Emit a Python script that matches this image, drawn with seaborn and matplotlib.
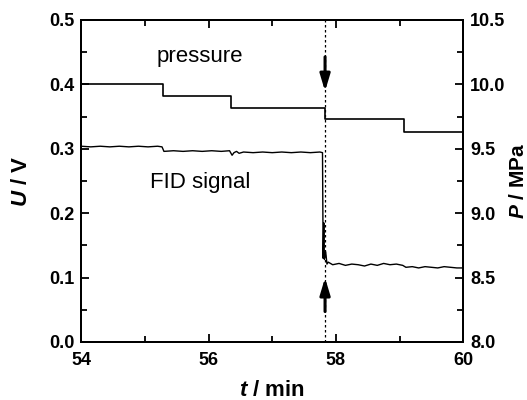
import numpy as np
import pandas as pd
import matplotlib
matplotlib.use("Agg")
import matplotlib.pyplot as plt
import seaborn as sns
from matplotlib.ticker import MultipleLocator, FormatStrFormatter

sns.set_style("ticks")
plt.rcParams['font.family'] = ['Liberation Sans', 'DejaVu Sans']
plt.rcParams['mathtext.fontset'] = 'custom'
plt.rcParams['mathtext.it'] = 'Liberation Sans:italic:bold'
plt.rcParams['mathtext.rm'] = 'Liberation Sans:bold'
plt.rcParams['text.color'] = 'black'
plt.rcParams['axes.labelcolor'] = 'black'
plt.rcParams['xtick.color'] = 'black'
plt.rcParams['ytick.color'] = 'black'

# pressure steps (MPa)
p_time = [54.0, 55.29, 56.36, 57.83, 59.07, 60.0]
p_value = [10.0, 9.91, 9.82, 9.73, 9.63, 9.63]

# FID signal (V)
fid_time = [54.00, 54.15, 54.30, 54.45, 54.60, 54.75, 54.90, 55.05, 55.20, 55.27,
            55.30, 55.45, 55.60, 55.75, 55.90, 56.05, 56.20, 56.33,
            56.37, 56.40, 56.44, 56.48, 56.55, 56.70, 56.85, 57.00, 57.15,
            57.30, 57.45, 57.60, 57.75, 57.79,
            57.80, 57.81, 57.82, 57.84, 57.86, 57.88, 57.95, 58.05, 58.15, 58.25,
            58.35, 58.45, 58.55, 58.65, 58.75, 58.85, 58.95, 59.05, 59.10,
            59.20, 59.30, 59.40, 59.50, 59.60, 59.70, 59.80, 59.90, 60.00]
fid_value = [0.304, 0.303, 0.304, 0.303, 0.304, 0.303, 0.304, 0.303, 0.304, 0.303,
             0.296, 0.297, 0.296, 0.297, 0.296, 0.297, 0.296, 0.297,
             0.290, 0.294, 0.296, 0.293, 0.295, 0.294, 0.295, 0.294, 0.295,
             0.294, 0.295, 0.294, 0.295, 0.294,
             0.130, 0.185, 0.128, 0.140, 0.121, 0.124, 0.120, 0.122, 0.119, 0.121,
             0.120, 0.118, 0.121, 0.119, 0.122, 0.120, 0.121, 0.119, 0.116,
             0.117, 0.115, 0.117, 0.116, 0.115, 0.117, 0.116, 0.115, 0.115]

t_event = 57.83

fid = pd.DataFrame({"t": fid_time, "U": fid_value})
pres = pd.DataFrame({"t": p_time, "P": p_value})

fig = plt.figure(figsize=(5.27, 4.0), dpi=100)
ax = fig.add_axes([0.154, 0.145, 0.725, 0.805])
ax2 = ax.twinx()

sns.lineplot(data=fid, x="t", y="U", ax=ax, color="black", lw=1.0)
sns.lineplot(data=pres, x="t", y="P", ax=ax2, color="black", lw=1.2,
             drawstyle="steps-post")

ax.axvline(t_event, color="black", lw=0.9, ls=(0, (2, 2)))

ax.set_xlim(54, 60)
ax.set_ylim(0, 0.5)
ax2.set_ylim(8.0, 10.5)

ax.xaxis.set_major_locator(MultipleLocator(2))
ax.xaxis.set_minor_locator(MultipleLocator(1))
ax.yaxis.set_major_locator(MultipleLocator(0.1))
ax.yaxis.set_minor_locator(MultipleLocator(0.05))
ax2.yaxis.set_major_locator(MultipleLocator(0.5))
ax2.yaxis.set_minor_locator(MultipleLocator(0.25))

ax.tick_params(axis="both", which="both", direction="in", width=1.3,
               labelsize=13, top=True, right=False, colors="black")
ax.tick_params(axis="x", pad=7)
ax.tick_params(axis="y", pad=5)
ax.tick_params(which="major", length=6)
ax.tick_params(which="minor", length=4)
ax2.tick_params(axis="y", which="both", direction="in", width=1.3,
                labelsize=13, pad=5, colors="black")
ax2.tick_params(which="major", length=6)
ax2.tick_params(which="minor", length=4)
ax.yaxis.set_major_formatter(FormatStrFormatter("%.1f"))
ax2.yaxis.set_major_formatter(FormatStrFormatter("%.1f"))
for a in (ax, ax2):
    for lab in a.get_xticklabels() + a.get_yticklabels():
        lab.set_fontweight("bold")
    for s in a.spines.values():
        s.set_linewidth(1.4)
        s.set_color("black")

ax.set_xlabel(r"$\it{t}$ / min", fontsize=16, fontweight="bold", labelpad=8)
ax.set_ylabel(r"$\it{U}$ / V", fontsize=16, fontweight="bold", va="center")
ax.yaxis.set_label_coords(-0.155, 0.5)
ax2.set_ylabel(r"$\it{P}$ / MPa", fontsize=15, fontweight="bold", va="center")
ax2.yaxis.set_label_coords(1.145, 0.5)

ax.text(55.87, 0.443, "pressure", fontsize=16, ha="center", va="center")
ax.text(55.87, 0.247, "FID signal", fontsize=16, ha="center", va="center")

arrow = dict(arrowstyle="-|>,head_width=0.3,head_length=1.0", color="black", lw=2.2)
ax.annotate("", xy=(t_event, 0.385), xytext=(t_event, 0.447), arrowprops=arrow)
ax.annotate("", xy=(t_event, 0.104), xytext=(t_event, 0.043), arrowprops=arrow)

fig.savefig("out.png", dpi=100)
